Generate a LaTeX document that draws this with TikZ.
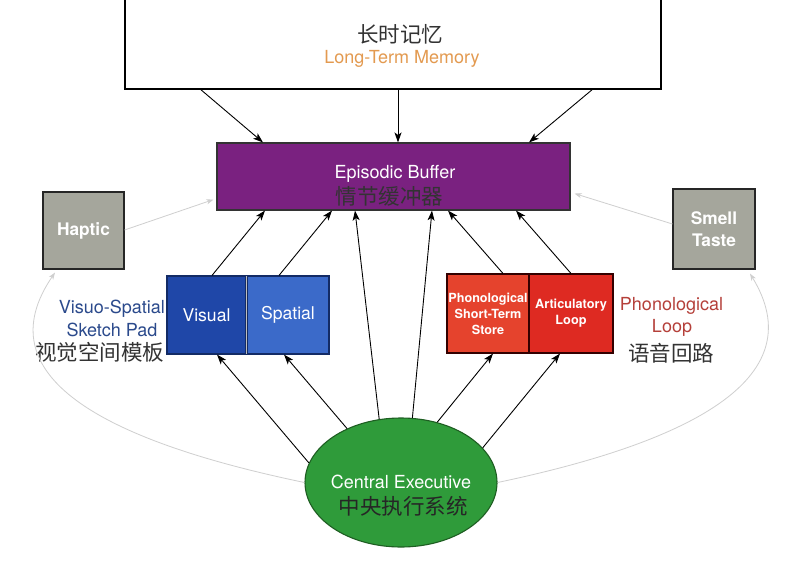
\documentclass[tikz,border=0pt]{standalone}
\usepackage{fontspec}
\setmainfont{TeX Gyre Heros}
\newfontfamily\cjk{Noto Sans CJK SC}
\usetikzlibrary{shapes.geometric,arrows.meta,calc}
\definecolor{ebpurple}{HTML}{7A2180}
\definecolor{visblue}{HTML}{1F47A8}
\definecolor{spablue}{HTML}{3B6AC9}
\definecolor{stsred}{HTML}{E5432D}
\definecolor{artred}{HTML}{DE2A22}
\definecolor{boxgray}{HTML}{A5A69C}
\definecolor{cegreen}{HTML}{2F9B3A}
\definecolor{cedark}{HTML}{1E5E22}
\definecolor{ltmorange}{HTML}{E39A50}
\definecolor{lblblue}{HTML}{2B4A8C}
\definecolor{lblred}{HTML}{B5403A}
\definecolor{zhgray}{HTML}{333333}
\definecolor{faint}{HTML}{CFCFCF}
\begin{document}
\begin{tikzpicture}[x=1pt,y=-1pt,
  boxstyle/.style={draw=#1, line width=1.1pt, inner sep=0pt, align=center, text=white},
  arr/.style={line width=0.9pt, -{Stealth[length=10pt,width=7pt,inset=2.5pt]}},
  farr/.style={draw=faint, line width=0.8pt, -{Stealth[length=7pt,width=5pt,inset=2pt]}},
  entxt/.style={font=\fontsize{18}{21}\selectfont, inner sep=0pt},
  zhtxt/.style={font=\cjk\fontsize{21.5}{24}\selectfont, text=zhgray, inner sep=0pt}]
\useasboundingbox (0,0) rectangle (800,562);
\fill[white] (0,0) rectangle (800,562);
% Long-term memory
\node[draw=black, line width=1.6pt, minimum width=536pt, minimum height=99pt, inner sep=0pt] (ltm) at (393,39.5) {};
\node[zhtxt] (ltmzh) at (400,34) {长时记忆};
\node[entxt, text=ltmorange] (ltmen) at (402,59) {Long-Term Memory};
% Episodic buffer
\node[boxstyle=black!80, fill=ebpurple, minimum width=353pt, minimum height=67pt] (eb) at (393.5,176.5) {};
\node[entxt, text=white] (eben) at (395,174) {Episodic Buffer};
\node[zhtxt] (ebzh) at (389.5,196) {情节缓冲器};
% Haptic, smell
\node[boxstyle=black!85, fill=boxgray, minimum width=81pt, minimum height=77pt,
      font=\bfseries\fontsize{17.3}{22}\selectfont] (haptic) at (83.5,230.5) {Haptic};
\node[boxstyle=black!85, fill=boxgray, minimum width=82pt, minimum height=80pt,
      font=\bfseries\fontsize{17.3}{22}\selectfont] (smell) at (714,229) {Smell\\Taste};
% Visuo-spatial
\node[boxstyle=visblue!60!black, fill=visblue, minimum width=79pt, minimum height=78pt,
      font=\fontsize{17.6}{21}\selectfont] (visual) at (206.5,315) {Visual};
\node[boxstyle=visblue!60!black, fill=spablue, minimum width=82pt, minimum height=78pt,
      font=\fontsize{17.6}{21}\selectfont] (spatial) at (288,315) {Spatial};
\draw[line width=1.4pt, black!25] ([yshift=-1pt]visual.north east) -- ([yshift=1pt]visual.south east);
% Phonological
\node[boxstyle=black!80!red, fill=stsred, minimum width=82pt, minimum height=79pt,
      font=\bfseries\fontsize{12.6}{16}\selectfont] (sts) at (488,313.5) {Phonological\\Short-Term\\Store};
\node[boxstyle=black!80!red, fill=artred, minimum width=84pt, minimum height=79pt,
      font=\bfseries\fontsize{12.7}{16}\selectfont] (art) at (571,313.5) {Articulatory\\Loop};
% labels
\node[entxt, text=lblblue, anchor=east] (vs1) at (165,309) {Visuo-Spatial};
\node[entxt, text=lblblue] (vs2) at (112,330) {Sketch Pad};
\node[zhtxt] (vs3) at (99.5,352.5) {视觉空间模板};
\node[entxt, text=lblred] (pl1) at (671.5,306) {Phonological};
\node[entxt, text=lblred] (pl2) at (672,328) {Loop};
\node[zhtxt] (pl3) at (671,353) {语音回路};
% Central executive
\node[ellipse, draw=cedark, line width=1.1pt, fill=cegreen, minimum width=192pt, minimum height=129pt, inner sep=0pt] (ce) at (401,482.5) {};
\node[entxt, text=white] (ceen) at (401,482) {Central Executive};
\node[zhtxt, text=black!85] (cezh) at (403,506) {中央执行系统};
% LTM -> EB
\draw[arr] ([xshift=-192pt]ltm.south) -- ([xshift=-130.5pt]eb.north);
\draw[arr] ([xshift=5pt]ltm.south) -- ([xshift=4.5pt]eb.north);
\draw[arr] ([xshift=199pt]ltm.south) -- ([xshift=135.5pt]eb.north);
% subsystems -> EB
\draw[arr] ([xshift=5.5pt]visual.north) -- ([xshift=-128.5pt]eb.south);
\draw[arr] ([xshift=-9pt]spatial.north) -- ([xshift=-61.5pt]eb.south);
\draw[arr] ([xshift=15pt]sts.north) -- ([xshift=54.5pt]eb.south);
\draw[arr] (art.north) -- ([xshift=122.5pt]eb.south);
% CE -> others
\draw[arr] (ce.168) -- ([xshift=10.5pt]visual.south);
\draw[arr] (ce.135) -- ([xshift=-4pt]spatial.south);
\draw[arr] (ce.109) -- ([xshift=-38.5pt]eb.south);
\draw[arr] (ce.80) -- ([xshift=38.5pt]eb.south);
\draw[arr] (ce.59.5) -- ([xshift=5pt]sts.south);
\draw[arr] (ce.23) -- ([xshift=-11pt]art.south);
% faint connectors
\draw[farr] (ce.west) .. controls (100,440) and (-15,375) .. ([xshift=-28.5pt,yshift=-3pt]haptic.south);
\draw[farr] (ce.east) .. controls (700,440) and (812,375) .. ([xshift=36pt,yshift=-4pt]smell.south);
\draw[farr] ([yshift=0.5pt]haptic.east) -- ($(eb.south west)+(-3,-11)$);
\draw[farr] ([yshift=5pt]smell.west) -- ($(eb.south east)+(4,-17)$);
\end{tikzpicture}
\end{document}
